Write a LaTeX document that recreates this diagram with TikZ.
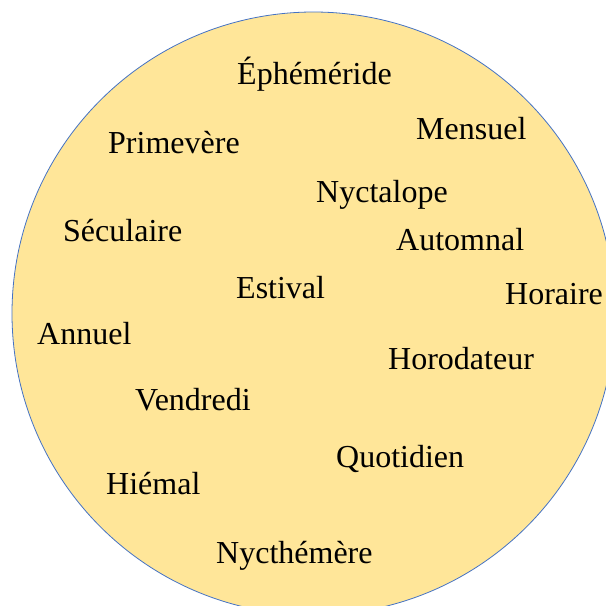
\documentclass[tikz,border=0pt]{standalone}
\usepackage{fontspec}
\setmainfont{Liberation Serif}
\usepackage{tikz}
\definecolor{discfill}{HTML}{FFE699}
\definecolor{discline}{HTML}{4472C4}

\begin{document}
\begin{tikzpicture}[x=1pt,y=-1pt, word/.style={anchor=base west,inner sep=0pt,font=\fontsize{32}{38}\selectfont}, disc/.style={fill=discfill,draw=discline,line width=0.8pt}]
\useasboundingbox (0,0) rectangle (606,606);
\draw[disc] (313.5,313.5) circle[radius=301.5];
\node[word] (eph) at (237,84) {Éphéméride};
\node[word] (prim) at (108,153) {Primevère};
\node[word] (mens) at (416,139) {Mensuel};
\node[word] (nyct) at (316,202) {Nyctalope};
\node[word] (secu) at (63,241) {Séculaire};
\node[word] (autom) at (396,250) {Automnal};
\node[word] (esti) at (236,298) {Estival};
\node[word] (hora) at (505,304) {Horaire};
\node[word] (annu) at (37,344) {Annuel};
\node[word] (horo) at (388,369) {Horodateur};
\node[word] (vend) at (135,410) {Vendredi};
\node[word] (quot) at (336,467) {Quotidien};
\node[word] (hiem) at (106,494) {Hiémal};
\node[word] (nycth) at (216,563) {Nycthémère};
\end{tikzpicture}
\end{document}
